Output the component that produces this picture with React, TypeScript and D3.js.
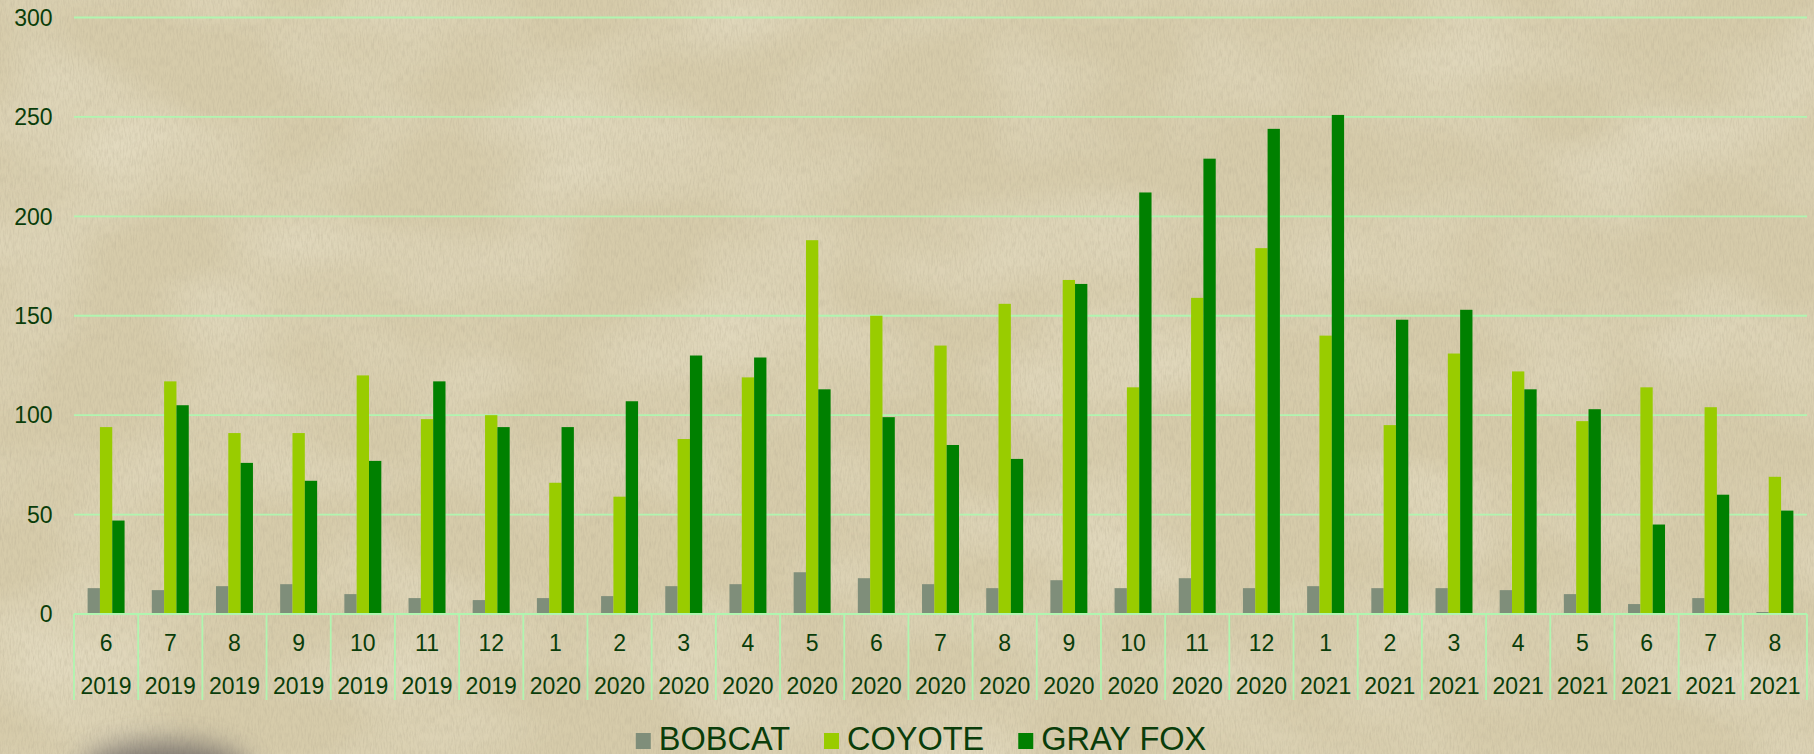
import { useRef, useEffect } from 'react';
import * as d3 from 'd3';

// month / year of each group
const months = ['6', '7', '8', '9', '10', '11', '12', '1', '2', '3', '4', '5', '6', '7', '8', '9', '10', '11', '12', '1', '2', '3', '4', '5', '6', '7', '8'];
const years = ['2019', '2019', '2019', '2019', '2019', '2019', '2019', '2020', '2020', '2020', '2020', '2020', '2020', '2020', '2020', '2020', '2020', '2020', '2020', '2021', '2021', '2021', '2021', '2021', '2021', '2021', '2021'];

const seriesNames = ['BOBCAT', 'COYOTE', 'GRAY FOX'];
const bobcat = [13, 12, 14, 15, 10, 8, 7, 8, 9, 14, 15, 21, 18, 15, 13, 17, 13, 18, 13, 14, 13, 13, 12, 10, 5, 8, 1];
const coyote = [94, 117, 91, 91, 120, 98, 100, 66, 59, 88, 119, 188, 150, 135, 156, 168, 114, 159, 184, 140, 95, 131, 122, 97, 114, 104, 69];
const grayFox = [47, 105, 76, 67, 77, 117, 94, 94, 107, 130, 129, 113, 99, 85, 78, 166, 212, 229, 244, 251, 148, 153, 113, 103, 45, 60, 52];
const yTicks = [0, 50, 100, 150, 200, 250, 300];

const colors = ['#7f8e7a', '#99cc00', '#008000'];
const textColor = '#0a3d0a';
const gridColor = '#b0f5b0';
const font = '"Liberation Sans", Arial, sans-serif';

const App = () => {
    const svgRef = useRef<SVGSVGElement>(null);

    useEffect(() => {
        document.body.style.margin = '0';
        document.body.style.overflow = 'hidden';

        const width = 1814;
        const height = 754;
        const left = 74;
        const right = 1807;
        const svg = d3.select(svgRef.current);
        svg.selectAll('*').remove();

        // paper texture
        const defs = svg.append('defs');
        const fine = defs.append('filter').attr('id', 'paperFine')
            .attr('x', 0).attr('y', 0).attr('width', '100%').attr('height', '100%');
        fine.append('feTurbulence').attr('type', 'fractalNoise')
            .attr('baseFrequency', '0.6 0.12').attr('numOctaves', 3).attr('seed', 7);
        fine.append('feColorMatrix').attr('type', 'matrix')
            .attr('values', '0 0 0 0 0.45  0 0 0 0 0.40  0 0 0 0 0.28  1.6 0 0 0 -0.62');

        const coarse = defs.append('filter').attr('id', 'paperCoarse')
            .attr('x', 0).attr('y', 0).attr('width', '100%').attr('height', '100%');
        coarse.append('feTurbulence').attr('type', 'fractalNoise')
            .attr('baseFrequency', '0.006 0.01').attr('numOctaves', 2).attr('seed', 3);
        coarse.append('feColorMatrix').attr('type', 'matrix')
            .attr('values', '0 0 0 0 0.95  0 0 0 0 0.92  0 0 0 0 0.80  1.4 0 0 0 -0.55');

        const blur = defs.append('filter').attr('id', 'blob').attr('x', '-50%').attr('y', '-50%').attr('width', '200%').attr('height', '200%');
        blur.append('feGaussianBlur').attr('stdDeviation', 14);

        svg.append('rect').attr('width', width).attr('height', height).attr('fill', '#d6cbaa');
        svg.append('rect').attr('width', width).attr('height', height).attr('filter', 'url(#paperCoarse)').attr('opacity', 0.5);
        svg.append('rect').attr('width', width).attr('height', height).attr('filter', 'url(#paperFine)').attr('opacity', 0.4);
        svg.append('ellipse').attr('cx', 165).attr('cy', 772).attr('rx', 85).attr('ry', 30)
            .attr('fill', '#5f5a5c').attr('opacity', 0.75).attr('filter', 'url(#blob)');

        const y = d3.scaleLinear().domain([0, 300]).range([614, 17.5]);
        const x0 = d3.scaleBand<number>().domain(d3.range(months.length)).range([left, right]);
        const bw = x0.bandwidth();
        const groupW = bw * 0.576;
        const x1 = d3.scaleBand<number>().domain([0, 1, 2]).range([(bw - groupW) / 2, (bw + groupW) / 2]);

        const chart = svg.append('g').style('font-family', font);

        // gridlines
        chart.selectAll('.grid')
            .data(yTicks)
            .enter()
            .append('line')
            .attr('x1', left)
            .attr('x2', right)
            .attr('y1', (d) => y(d))
            .attr('y2', (d) => y(d))
            .attr('stroke', gridColor)
            .attr('stroke-width', 1.8);

        chart.selectAll('.ylab')
            .data(yTicks)
            .enter()
            .append('text')
            .attr('x', 52.5)
            .attr('y', (d) => y(d))
            .attr('dy', '0.36em')
            .attr('text-anchor', 'end')
            .attr('fill', textColor)
            .style('font-size', '23px')
            .text((d) => d);

        // bars
        const data = [bobcat, coyote, grayFox];
        data.forEach((vals, s) => {
            chart.selectAll('.bar' + s)
                .data(vals)
                .enter()
                .append('rect')
                .attr('x', (d, i) => (x0(i) as number) + (x1(s) as number))
                .attr('width', x1.bandwidth())
                .attr('y', (d) => y(d))
                .attr('height', (d) => y(0) - y(d))
                .attr('fill', colors[s]);
        });

        // category separators
        const edges = d3.range(months.length + 1).map((i) => left + i * bw);
        chart.selectAll('.sep')
            .data(edges)
            .enter()
            .append('line')
            .attr('x1', (d) => d)
            .attr('x2', (d) => d)
            .attr('y1', 614)
            .attr('y2', 700)
            .attr('stroke', gridColor)
            .attr('stroke-width', 1.8);

        chart.append('line')
            .attr('x1', left).attr('x2', right)
            .attr('y1', y(0)).attr('y2', y(0))
            .attr('stroke', gridColor).attr('stroke-width', 1.8);

        chart.selectAll('.month')
            .data(months)
            .enter()
            .append('text')
            .attr('x', (d, i) => (x0(i) as number) + bw / 2)
            .attr('y', 643)
            .attr('dy', '0.36em')
            .attr('text-anchor', 'middle')
            .attr('fill', textColor)
            .style('font-size', '23px')
            .text((d) => d);

        chart.selectAll('.year')
            .data(years)
            .enter()
            .append('text')
            .attr('x', (d, i) => (x0(i) as number) + bw / 2)
            .attr('y', 686)
            .attr('dy', '0.36em')
            .attr('text-anchor', 'middle')
            .attr('fill', textColor)
            .style('font-size', '23px')
            .text((d) => d);

        // legend
        const legend = chart.append('g');
        const items = seriesNames.map((name, i) => {
            const g = legend.append('g');
            g.append('rect').attr('x', 0).attr('y', 733).attr('width', 15).attr('height', 16).attr('fill', colors[i]);
            const t = g.append('text')
                .attr('x', 23)
                .attr('y', 749.5)
                .attr('fill', textColor)
                .style('font-size', '32.5px')
                .text(name);
            const w = (t.node() as SVGTextElement).getComputedTextLength();
            return { g, w: 23 + w };
        });
        const gap = 34;
        const total = d3.sum(items, (d) => d.w) + gap * (items.length - 1);
        let pos = 921 - total / 2;
        items.forEach((it) => {
            it.g.attr('transform', 'translate(' + pos + ',0)');
            pos += it.w + gap;
        });
    }, []);

    return (
        <svg ref={svgRef} width={1814} height={754} style={{ display: 'block' }} />
    );
};

export default App;
